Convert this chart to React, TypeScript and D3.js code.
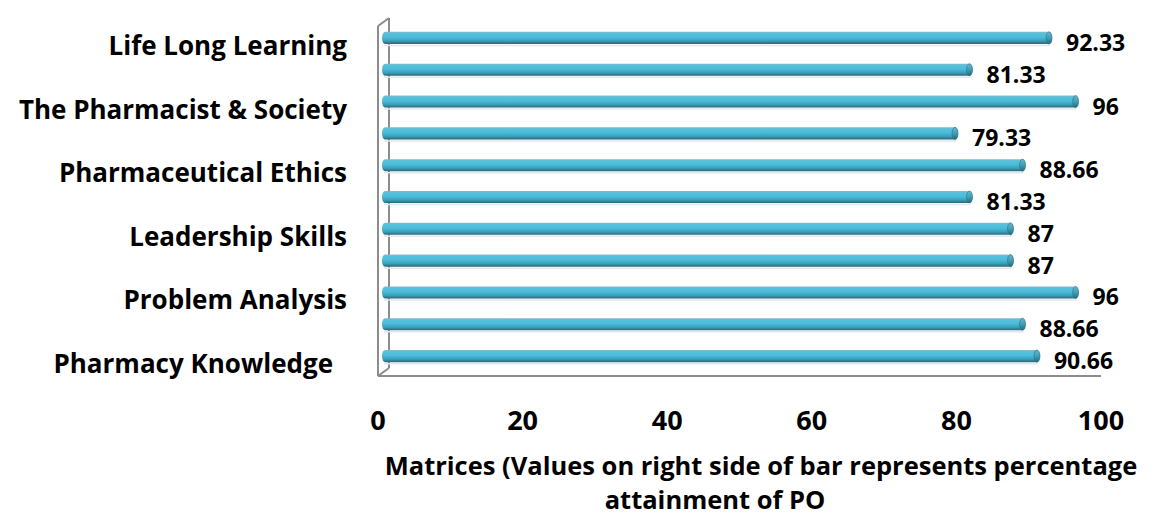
import * as d3 from "d3";

// bottom to top, as in the chart
const categories = [
  "Pharmacy Knowledge",
  "Planning Abilities",
  "Problem Analysis",
  "Modern Tool Usage",
  "Leadership Skills",
  "Professional Identity",
  "Pharmaceutical Ethics",
  "Communication",
  "The Pharmacist & Society",
  "Environment & Sustainability",
  "Life Long Learning",
];
const values = [90.66, 88.66, 96, 87, 87, 81.33, 88.66, 79.33, 96, 81.33, 92.33];
const valueLabels = ["90.66", "88.66", "96", "87", "87", "81.33", "88.66", "79.33", "96", "81.33", "92.33"];
const xTicks = [0, 20, 40, 60, 80, 100];
const titleLines = [
  "Matrices (Values on right side of bar represents percentage",
  "attainment of PO",
];

const W = 1156;
const H = 515;
const FONT = "'Open Sans', Lato, sans-serif";

export default function App() {
  const left = 378;
  const right = 1101;
  const top = 26;
  const bottom = 376;
  const depth = { dx: 11, dy: -8 };

  const x = d3.scaleLinear().domain([0, 100]).range([left, right]);
  const y = d3
    .scaleBand<number>()
    .domain(d3.range(categories.length))
    .range([bottom, top])
    .paddingInner(0.62)
    .paddingOuter(0.31);

  const barH = y.bandwidth();
  // bars sit half way into the depth
  const bx = (v: number) => x(v) + depth.dx / 2 + 1;
  const by = (i: number) => (y(i) as number) + depth.dy / 2;

  const wall = "#8c8c8c";

  return (
    <svg width={W} height={H} style={{ display: "block", position: "absolute", left: 0, top: 0 }}>
      <defs>
        <linearGradient id="cyl" x1="0" y1="0" x2="0" y2="1">
          <stop offset="0%" stopColor="#8ab9c6" />
          <stop offset="14%" stopColor="#56c1dc" />
          <stop offset="45%" stopColor="#4bbcd9" />
          <stop offset="75%" stopColor="#3a9fb9" />
          <stop offset="100%" stopColor="#2a6677" />
        </linearGradient>
        <linearGradient id="cap" x1="0" y1="0" x2="0" y2="1">
          <stop offset="0%" stopColor="#6fb2c4" />
          <stop offset="50%" stopColor="#3e9fba" />
          <stop offset="100%" stopColor="#2a6677" />
        </linearGradient>
      </defs>
      <rect width={W} height={H} fill="#ffffff" />

      {/* 3D wall and floor */}
      <g stroke={wall} strokeWidth={2} fill="none">
        <line x1={left} y1={top} x2={left} y2={bottom} />
        <line x1={left + depth.dx} y1={top + depth.dy} x2={left + depth.dx} y2={bottom + depth.dy} />
        <line x1={left} y1={top} x2={left + depth.dx} y2={top + depth.dy} />
        <line x1={left} y1={bottom} x2={left + depth.dx} y2={bottom + depth.dy} />
        <line x1={left} y1={bottom} x2={right} y2={bottom} />
      </g>

      {/* bars */}
      {values.map((v, i) => {
        const y0 = by(i);
        const x0 = left + 4;
        const x1 = bx(v);
        const r = barH / 2;
        return (
          <g key={i}>
            <line x1={x0 + 2} x2={x1 - 2} y1={y0 + barH + 1.5} y2={y0 + barH + 1.5} stroke="#e1e8ea" strokeWidth={1.5} />
            <path
              d={`M${x0 + 3},${y0} L${x1 - 3},${y0} A3,${r} 0 0 1 ${x1 - 3},${y0 + barH} L${x0 + 3},${y0 + barH} A3,${r} 0 0 1 ${x0 + 3},${y0} Z`}
              fill="url(#cyl)"
            />
            <ellipse cx={x1 - 3} cy={y0 + r} rx={3} ry={r} fill="url(#cap)" stroke="#2f7487" strokeWidth={0.6} />
            <text
              x={x1 + 14}
              y={y0 + r + 4}
              dominantBaseline="central"
              fontFamily={FONT}
              fontWeight={700}
              fontSize={23}
              fill="#000"
            >
              {valueLabels[i]}
            </text>
          </g>
        );
      })}

      {/* category labels, every other one */}
      {categories.map((c, i) =>
        i % 2 === 0 ? (
          <text
            key={c}
            x={i === 0 ? 333 : 347}
            y={(y(i) as number) + barH / 2 + 3}
            textAnchor="end"
            dominantBaseline="central"
            fontFamily={FONT}
            fontWeight={700}
            fontSize={26}
            fill="#000"
          >
            {c}
          </text>
        ) : null
      )}

      {/* x tick labels */}
      {xTicks.map((t) => (
        <text
          key={t}
          x={x(t)}
          y={419}
          textAnchor="middle"
          dominantBaseline="central"
          fontFamily={FONT}
          fontWeight={700}
          fontSize={27}
          fill="#000"
        >
          {t}
        </text>
      ))}

      {/* axis title */}
      <text x={761} y={465} textAnchor="middle" dominantBaseline="central" fontFamily={FONT} fontWeight={700} fontSize={25.5} fill="#000">
        {titleLines[0]}
      </text>
      <text x={715} y={499} textAnchor="middle" dominantBaseline="central" fontFamily={FONT} fontWeight={700} fontSize={25.5} fill="#000">
        {titleLines[1]}
      </text>
    </svg>
  );
}
